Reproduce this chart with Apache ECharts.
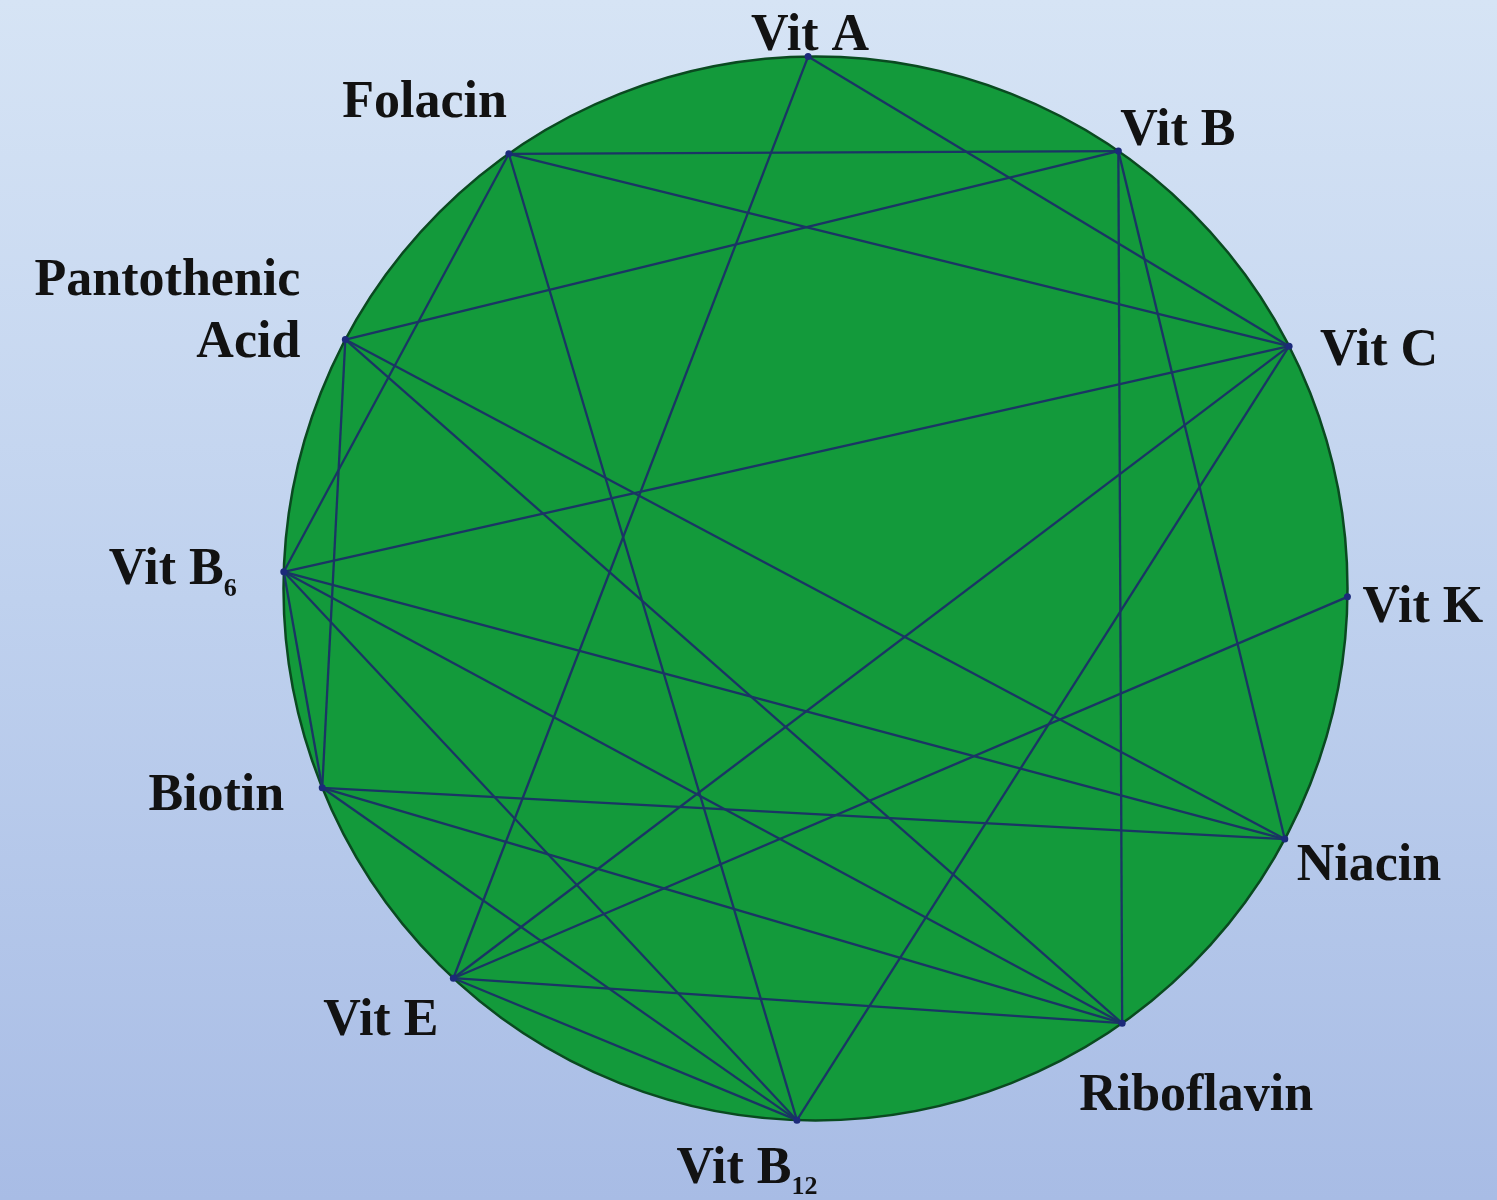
<!DOCTYPE html>
<html>
<head>
<meta charset="utf-8">
<script src="https://cdn.jsdelivr.net/npm/echarts@6/dist/echarts.min.js"></script>
<style>
  html, body { margin: 0; padding: 0; width: 100%; height: 100%; }
  #chart { width: 1497px; height: 1200px; }
</style>
</head>
<body>
<div id="chart"></div>
<script>
// ---- data ----
const nodeNames = ['Vit A', 'Vit B', 'Vit C', 'Vit K', 'Niacin', 'Riboflavin',
  'Vit B12', 'Vit E', 'Biotin', 'Vit B6', 'Pantothenic Acid', 'Folacin'];
// angular position on the wheel (degrees, clockwise from top)
const nodeAngles = [359.2, 34.7, 62.9, 90.9, 118.1, 144.8, 182.0, 222.9, 248.0, 271.8, 297.9, 324.8];
// label texts (subscripts marked with rich style s)
const nodeLabels = ['{n|Vit A}', '{n|Vit B}', '{n|Vit C}', '{n|Vit K}', '{n|Niacin}', '{n|Riboflavin}',
  '{n|Vit B}{s|12}', '{n|Vit E}', '{n|Biotin}', '{n|Vit B}{s|6}', '{n|Pantothenic}\n{n|Acid}', '{n|Folacin}'];
const edgeSources = ['Vit A', 'Vit A', 'Folacin', 'Vit B', 'Vit B', 'Vit B', 'Folacin', 'Vit C', 'Vit C', 'Vit C',
  'Vit K', 'Niacin', 'Niacin', 'Niacin', 'Riboflavin', 'Riboflavin', 'Riboflavin', 'Riboflavin',
  'Vit B12', 'Vit B12', 'Vit B12', 'Vit B12', 'Pantothenic Acid', 'Folacin', 'Vit B6'];
const edgeTargets = ['Vit E', 'Vit C', 'Vit B', 'Pantothenic Acid', 'Riboflavin', 'Niacin', 'Vit C', 'Vit B6', 'Vit E', 'Vit B12',
  'Vit E', 'Pantothenic Acid', 'Vit B6', 'Biotin', 'Pantothenic Acid', 'Vit B6', 'Biotin', 'Vit E',
  'Vit B6', 'Biotin', 'Vit E', 'Folacin', 'Biotin', 'Vit B6', 'Biotin'];

// ---- label placement (style, per node) ----
const labelPlacement = {
  'Vit A': { align: 'center', offset: [2, -20] },
  'Vit B': { align: 'left', offset: [2, -20] },
  'Vit C': { align: 'left', offset: [31, 5] },
  'Vit K': { align: 'left', offset: [15, 12] },
  'Niacin': { align: 'left', offset: [12, 27] },
  'Riboflavin': { align: 'center', offset: [74, 73] },
  'Vit B12': { align: 'center', offset: [-50, 49] },
  'Vit E': { align: 'right', offset: [-15, 43] },
  'Biotin': { align: 'right', offset: [-38, 9] },
  'Vit B6': { align: 'right', offset: [-47, -1] },
  'Pantothenic Acid': { align: 'right', offset: [-45, -27] },
  'Folacin': { align: 'right', offset: [-2, -50] }
};

const chart = echarts.init(document.getElementById('chart'), null, { renderer: 'canvas' });

const nodes = nodeNames.map((name, i) => ({
  name: name,
  value: [1, nodeAngles[i]],
  label: {
    show: true,
    position: 'inside',
    align: labelPlacement[name].align,
    verticalAlign: 'middle',
    offset: labelPlacement[name].offset,
    formatter: nodeLabels[i]
  }
}));
const links = edgeSources.map((s, i) => ({ source: s, target: edgeTargets[i] }));

const labelFont = 'Liberation Serif';

chart.setOption({
  backgroundColor: {
    type: 'linear', x: 0, y: 0, x2: 0, y2: 1,
    colorStops: [
      { offset: 0, color: '#d6e4f5' },
      { offset: 0.5, color: '#bfd1ee' },
      { offset: 1, color: '#a8bce5' }
    ]
  },
  animation: false,
  polar: { center: [815.5, 588.5], radius: 532 },
  angleAxis: {
    type: 'value', min: 0, max: 360, startAngle: 90, clockwise: true,
    axisLine: { show: true, lineStyle: { color: '#0a4a20', width: 2.5 } },
    axisTick: { show: false }, axisLabel: { show: false },
    splitLine: { show: false }, splitArea: { show: false }
  },
  radiusAxis: {
    type: 'value', min: 0, max: 1, interval: 1,
    axisLine: { show: false }, axisTick: { show: false }, axisLabel: { show: false },
    splitLine: { show: false },
    splitArea: { show: true, areaStyle: { color: ['#139a3b'], opacity: 1 } }
  },
  series: [{
    type: 'graph',
    coordinateSystem: 'polar',
    layout: 'none',
    symbol: 'circle',
    symbolSize: 7,
    itemStyle: { color: '#1c2a7a' },
    lineStyle: { color: '#1a3564', width: 2.3, opacity: 1, curveness: 0 },
    emphasis: { disabled: true },
    label: {
      show: true,
      color: '#121212',
      rich: {
        n: { fontFamily: labelFont, fontWeight: 'bold', fontSize: 52, lineHeight: 62, color: '#121212' },
        s: { fontFamily: labelFont, fontWeight: 'bold', fontSize: 26, lineHeight: 26, verticalAlign: 'bottom', color: '#121212' }
      }
    },
    data: nodes,
    links: links
  }]
});
</script>
</body>
</html>
